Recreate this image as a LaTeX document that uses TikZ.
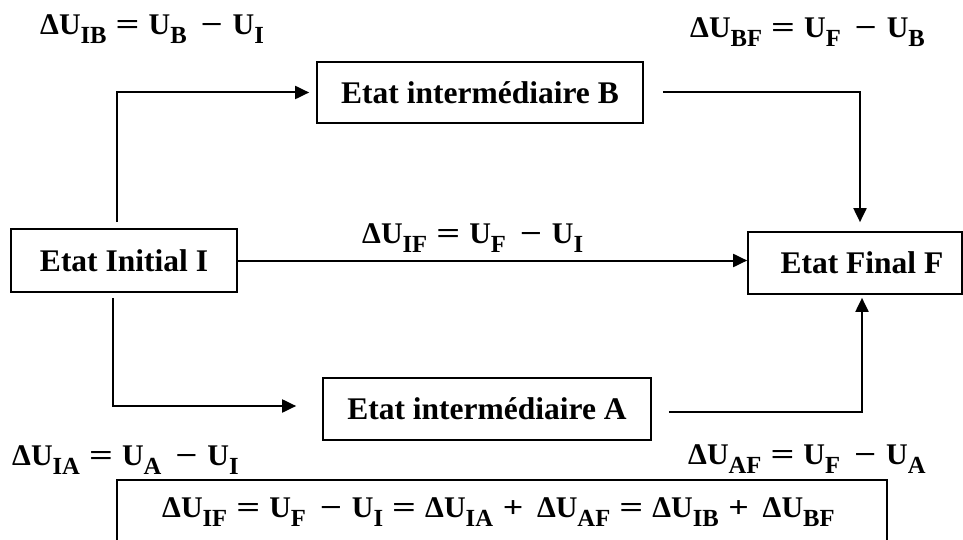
\documentclass[tikz,border=0pt]{standalone}
\usepackage{fontspec}
\setmainfont{Liberation Serif}
\usetikzlibrary{arrows.meta,calc}
\newcommand{\sbx}[1]{\raisebox{-0.3em}{\scalebox{0.82}{#1}}}
\newcommand{\dU}[1]{ΔU\sbx{#1}}
\newcommand{\Us}[1]{U\sbx{#1}}
\newcommand{\eqsign}{\hspace{9pt}\makebox[24pt]{\scalebox{1.4}[1]{=}}\hspace{9pt}}
\newcommand{\mn}{\hspace{15pt}\makebox[20pt]{\scalebox{1.3}[1]{−}}\hspace{11pt}}
\newcommand{\pl}{\hspace{8pt}\makebox[24pt]{\scalebox{1.2}[1]{+}}\hspace{12pt}}
\begin{document}
\begin{tikzpicture}[x=1pt,y=-1pt,
  box/.style={draw,line width=1.7pt,inner sep=0pt,font=\fontsize{31.5}{36}\selectfont\bfseries},
  eqn/.style={inner sep=0pt,anchor=base west,font=\fontsize{30}{34}\selectfont\bfseries},
  arr/.style={line width=2pt,-{Triangle[length=14pt,width=13pt]}}]
\useasboundingbox (0,0) rectangle (963,540);
\begin{scope}
\clip (0,0) rectangle (963,540);
\node[box,minimum width=226,minimum height=63] (I) at (124,260.5) {Etat Initial I};
\node[box,minimum width=326,minimum height=61] (B) at (480,92.5) {Etat intermédiaire B};
\node[box,minimum width=328,minimum height=62] (A) at (487,409) {Etat intermédiaire A};
\node[box,minimum width=214,minimum height=62] (F) at (855,263) {\hspace*{14pt}Etat Final F};

\draw[arr] ($(I.north)+(-7,-6)$) |- ($(B.west)+(-7,0)$);
\draw[arr] ($(I.south)+(-11,5)$) |- ($(A.west)+(-26,-3)$);
\draw[arr] (I.east) -- (I.east -| F.west);
\draw[arr] ($(B.east)+(19,0)$) -| ($(F.north)+(5,-9)$);
\draw[arr] ($(A.east)+(17,3)$) -| ($(F.south)+(7,3)$);

\node[eqn] (eIB) at (40,35) {\dU{IB}\eqsign\Us{B}\mn\Us{I}};
\node[eqn] (eBF) at (690,38) {\dU{BF}\eqsign\Us{F}\mn\Us{B}};
\node[eqn] (eIF) at (362,243) {\dU{IF}\eqsign\Us{F}\mn\Us{I}};
\node[eqn] (eIA) at (12,465) {\dU{IA}\eqsign\Us{A}\mn\Us{I}};
\node[eqn] (eAF) at (688,464) {\dU{AF}\eqsign\Us{F}\mn\Us{A}};
\node[draw,line width=1.7pt,minimum width=770,minimum height=100,anchor=north west] (S) at (116,479) {};
\node[eqn] (sum) at (162,517) {\dU{IF}\eqsign\Us{F}\mn\Us{I}\eqsign\dU{IA}\pl\dU{AF}\eqsign\dU{IB}\pl\dU{BF}};
\end{scope}
\end{tikzpicture}
\end{document}
